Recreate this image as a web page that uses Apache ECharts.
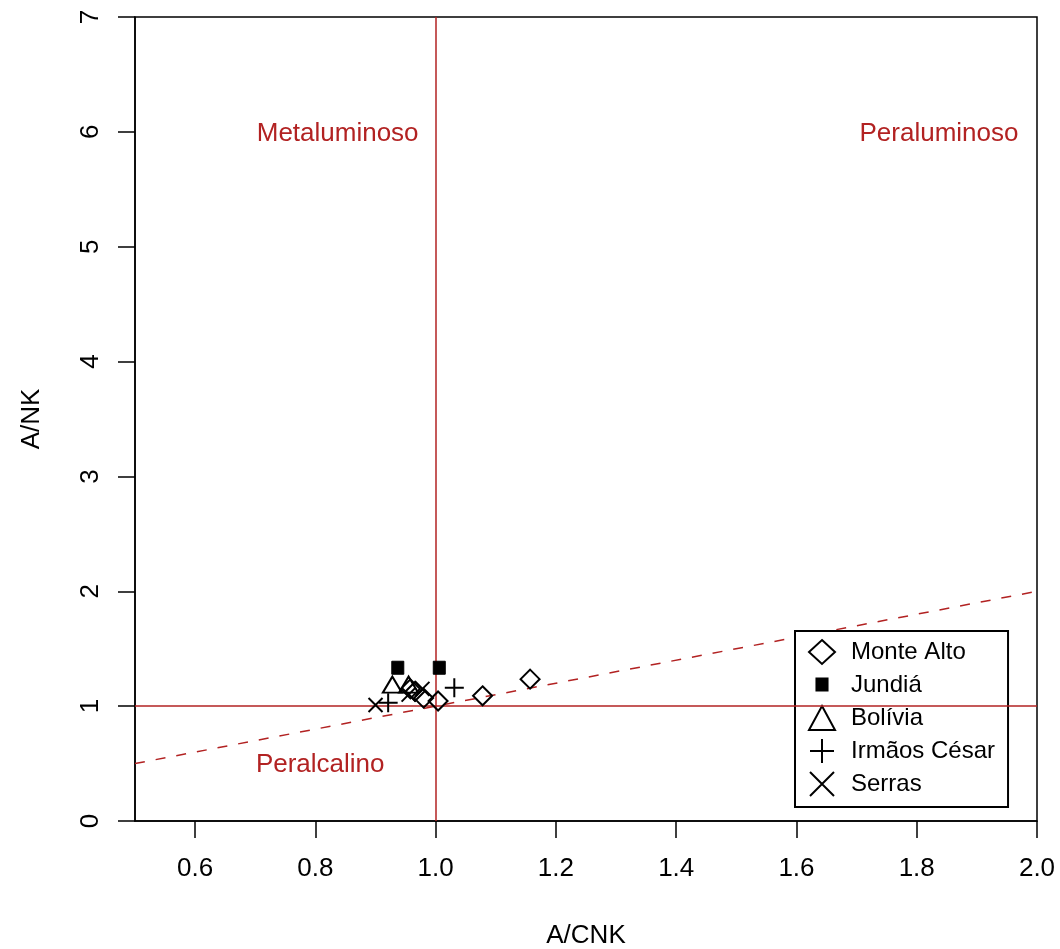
<!DOCTYPE html>
<html>
<head>
<meta charset="utf-8">
<script src="https://cdn.jsdelivr.net/npm/echarts@6/dist/echarts.min.js"></script>
<style>html,body{margin:0;padding:0;background:#fff}#c{width:1060px;height:949px}</style>
</head>
<body>
<div id="c"></div>
<script>
// ---- data ----
var monteAlto = [[0.958,1.15],[0.966,1.13],[0.980,1.07],[1.004,1.045],[1.078,1.09],[1.157,1.235]];
var jundia = [[0.937,1.33],[1.006,1.33]];
var bolivia = [[0.928,1.17],[0.955,1.17]];
var irmaosCesar = [[0.921,1.03],[1.031,1.16]];
var serras = [[0.900,1.01],[0.978,1.15],[0.955,1.10]];
var xTicks = [0.6,0.8,1.0,1.2,1.4,1.6,1.8,2.0];
var yTicks = [0,1,2,3,4,5,6,7];
var dividerLine = [[0.5,0.5],[2.0,2.0]];
var regionLabels = [
  {name:'Metaluminoso', value:[0.837,5.98]},
  {name:'Peraluminoso', value:[1.837,5.98]},
  {name:'Peralcalino', value:[0.808,0.49]}
];
var seriesNames = ['Monte Alto','Jundiá','Bolívia','Irmãos César','Serras'];

var RED = '#B22222';
var FONT = 'Liberation Sans, Arial, sans-serif';
var plusPath = 'path://M0,10L20,10M10,0L10,20';
var crossPath = 'path://M0,0L20,20M20,0L0,20';
// small square inside a larger invisible box (keeps legend icon small)
var squarePath = 'path://M0,0M26,26M7,6L19,6L19,19L7,19Z';

var chart = echarts.init(document.getElementById('c'));
var hollow = {color:'rgba(0,0,0,0)', borderColor:'#000', borderWidth:2, opacity:1};
chart.setOption({
  animation:false,
  backgroundColor:'#fff',
  textStyle:{fontFamily:FONT},
  grid:{left:135, top:17, width:902, height:804, show:true, borderColor:'#000', borderWidth:1.5, backgroundColor:'transparent', containLabel:false, outerBoundsMode:'none'},
  xAxis:{
    type:'value', min:0.5, max:2.0,
    name:'A/CNK', nameLocation:'middle', nameGap:102,
    nameTextStyle:{fontSize:26, color:'#000', fontFamily:FONT},
    axisLine:{show:true, onZero:false, lineStyle:{color:'#000', width:1.5}},
    axisTick:{show:true, length:17, lineStyle:{color:'#000', width:1.5}, customValues:xTicks},
    axisLabel:{fontSize:26, color:'#000', margin:35, customValues:xTicks, formatter:function(v){return v.toFixed(1);}},
    splitLine:{show:false}
  },
  yAxis:{
    type:'value', min:0, max:7, interval:1,
    name:'A/NK', nameLocation:'middle', nameGap:90,
    nameTextStyle:{fontSize:26, color:'#000', fontFamily:FONT},
    axisLine:{show:true, onZero:false, lineStyle:{color:'#000', width:1.5}},
    axisTick:{show:true, length:17, lineStyle:{color:'#000', width:1.5}, customValues:yTicks},
    axisLabel:{fontSize:26, color:'#000', margin:31, rotate:90, customValues:yTicks},
    splitLine:{show:false}
  },
  legend:{
    data:seriesNames,
    orient:'vertical', left:795, top:631,
    padding:[8,13,10,13], itemGap:7, itemWidth:26, itemHeight:24,
    backgroundColor:'#fff', borderColor:'#000', borderWidth:2, borderRadius:0,
    textStyle:{fontSize:24, color:'#000', fontFamily:FONT, padding:[0,0,0,11]},
    selectedMode:false
  },
  series:[
    {type:'line', data:dividerLine, symbol:'none', silent:true, z:1,
     lineStyle:{color:RED, width:1.5, type:[10,11]},
     markLine:{silent:true, symbol:'none', label:{show:false},
       lineStyle:{color:RED, width:1.5, type:'solid'},
       data:[{xAxis:1},{yAxis:1}]}},
    {type:'scatter', name:'regions', data:regionLabels, symbolSize:0, silent:true, itemStyle:{opacity:1},
     label:{show:true, position:'inside', formatter:'{b}', color:RED, fontSize:26, fontFamily:FONT}},
    {type:'scatter', name:'Monte Alto', data:monteAlto, symbol:'diamond', symbolSize:[19,19], itemStyle:hollow, z:5},
    {type:'scatter', name:'Jundiá', data:jundia, symbol:squarePath, symbolSize:[26,26],
     itemStyle:{color:'#000', borderColor:'#000', borderWidth:1, opacity:1}, z:5},
    {type:'scatter', name:'Bolívia', data:bolivia, symbol:'triangle', symbolSize:[19,16], symbolOffset:[0,-2], itemStyle:hollow, z:5},
    {type:'scatter', name:'Irmãos César', data:irmaosCesar, symbol:plusPath, symbolSize:[19,19], itemStyle:hollow, z:5},
    {type:'scatter', name:'Serras', data:serras, symbol:crossPath, symbolSize:[14,14], itemStyle:hollow, z:5}
  ]
});
</script>
</body>
</html>
